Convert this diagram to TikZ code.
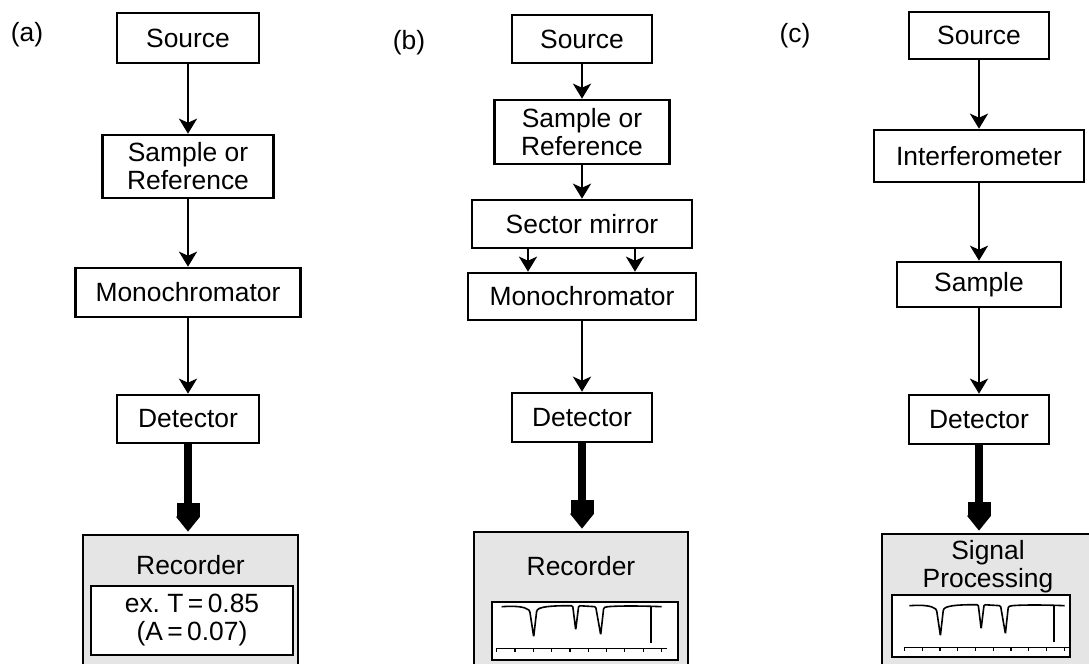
\documentclass[tikz,border=0pt]{standalone}
\usepackage{fontspec}
\setmainfont{Liberation Sans}
\usetikzlibrary{arrows.meta}
\definecolor{recgray}{RGB}{229,229,229}
\tikzset{
  box/.style={draw,line width=1.3pt,inner sep=0pt,align=center,font=\fontsize{13.2}{14}\selectfont},
  recbox/.style={box,fill=recgray},
  txt/.style={inner sep=0pt,align=center,font=\fontsize{13.2}{14}\selectfont},
  arr/.style={line width=1.3pt,-{Stealth[length=7.5pt,width=9pt,inset=2pt]}},
  fat/.style={line width=4pt,-{Rectangle[length=7pt,width=11.5pt,sep=0pt]Triangle[length=7.5pt,width=11.5pt,sep=0pt]}}
}
\newcommand{\specline}{%
  \draw[line width=0.8pt,rounded corners=0.6pt] (11,6) .. controls (25,5) and (34,6) .. (39,10) -- (43,36) -- (46,10)
    .. controls (50,5) and (70,5) .. (82,5) -- (85,29) -- (88,5) -- (105,6) -- (110,34) -- (113,7)
    .. controls (118,5) and (150,5) .. (171,6);
  \draw[line width=0.8pt] (160,6) -- (160,42);
  \draw[line width=0.7pt] (5,48) -- (176,48);
  \foreach \k in {0,...,9} \draw[line width=0.6pt] (6+18.3*\k,48) -- ++(0,3);
}
\begin{document}
\begin{tikzpicture}[x=0.5pt,y=-0.5pt]
\path[use as bounding box,fill=white] (0,0) rectangle (1089,664);
%% (a)
\node (labA) at (27,35) [txt] {(a)};
\node (srcA) at (188,38) [box,minimum width=71pt,minimum height=25pt] {Source};
\node (smpA) at (188,166.5) [box,minimum width=85.5pt,minimum height=31.5pt] {Sample or\\Reference};
\node (monA) at (188,292.5) [box,minimum width=112.5pt,minimum height=24.5pt] {Monochromator};
\node (detA) at (188,419) [box,minimum width=71pt,minimum height=24pt] {Detector};
\node (recA) at (190.5,607.5) [recbox,minimum width=107.5pt,minimum height=72.5pt] {};
\node (recAt) at (190.5,565) [txt] {Recorder};
\node (numA) at (192,620.5) [box,fill=white,minimum width=101pt,minimum height=34.5pt] {ex.\ T\,=\,0.85\\(A\,=\,0.07)};
\draw [arr] (srcA) -- (smpA);
\draw [arr] (smpA) -- (monA);
\draw [arr] (monA) -- (detA);
\draw [fat] (detA) -- ([yshift=1pt]detA |- recA.north);
%% (b)
\node (labB) at (409,43) [txt] {(b)};
\node (srcB) at (582,39) [box,minimum width=70pt,minimum height=24pt] {Source};
\node (smpB) at (582,132) [box,minimum width=87.5pt,minimum height=32pt] {Sample or\\Reference};
\node (secB) at (582,224) [box,minimum width=110pt,minimum height=24pt] {Sector mirror};
\node (monB) at (582,296.5) [box,minimum width=114pt,minimum height=23.5pt] {Monochromator};
\node (detB) at (582,417.5) [box,minimum width=70pt,minimum height=24.5pt] {Detector};
\node (recB) at (581,606) [recbox,minimum width=107pt,minimum height=74pt] {};
\node (recBt) at (581,566) [txt] {Recorder};
\node (specB) at (585,631) [box,fill=white,minimum width=93pt,minimum height=29pt] {};
\begin{scope}[shift={(specB.north west)}]
  \specline
\end{scope}
\draw [arr] (srcB) -- (smpB);
\draw [arr] (smpB) -- (secB);
\draw [arr] ([xshift=-27pt]secB.south) -- ([xshift=-27pt]monB.north);
\draw [arr] ([xshift=26.5pt]secB.south) -- ([xshift=26.5pt]monB.north);
\draw [arr] (monB) -- (detB);
\draw [fat] (detB) -- ([yshift=1pt]detB |- recB.north);
%% (c)
\node (labC) at (795,36) [txt] {(c)};
\node (srcC) at (979,35.5) [box,minimum width=70pt,minimum height=23.5pt] {Source};
\node (intC) at (979,156) [box,minimum width=105pt,minimum height=26pt] {Interferometer};
\node (smpC) at (979,284.5) [box,minimum width=82pt,minimum height=22.5pt] {Sample};
\node (detC) at (979,419.5) [box,minimum width=70pt,minimum height=24.5pt] {Detector};
\node (sigC) at (989,607) [recbox,minimum width=107pt,minimum height=73pt] {};
\node (sigCt) at (988,567) [txt] {Signal\\Processing};
\node (specC) at (981,626) [box,fill=white,minimum width=89pt,minimum height=31pt] {};
\begin{scope}[shift={([xshift=4pt,yshift=-3pt]specC.north west)},xscale=0.97]
  \specline
\end{scope}
\draw [arr] (srcC) -- (intC);
\draw [arr] (intC) -- (smpC);
\draw [arr] (smpC) -- (detC);
\draw [fat] (detC) -- ([yshift=1pt]detC |- sigC.north);
%
\end{tikzpicture}
\end{document}
